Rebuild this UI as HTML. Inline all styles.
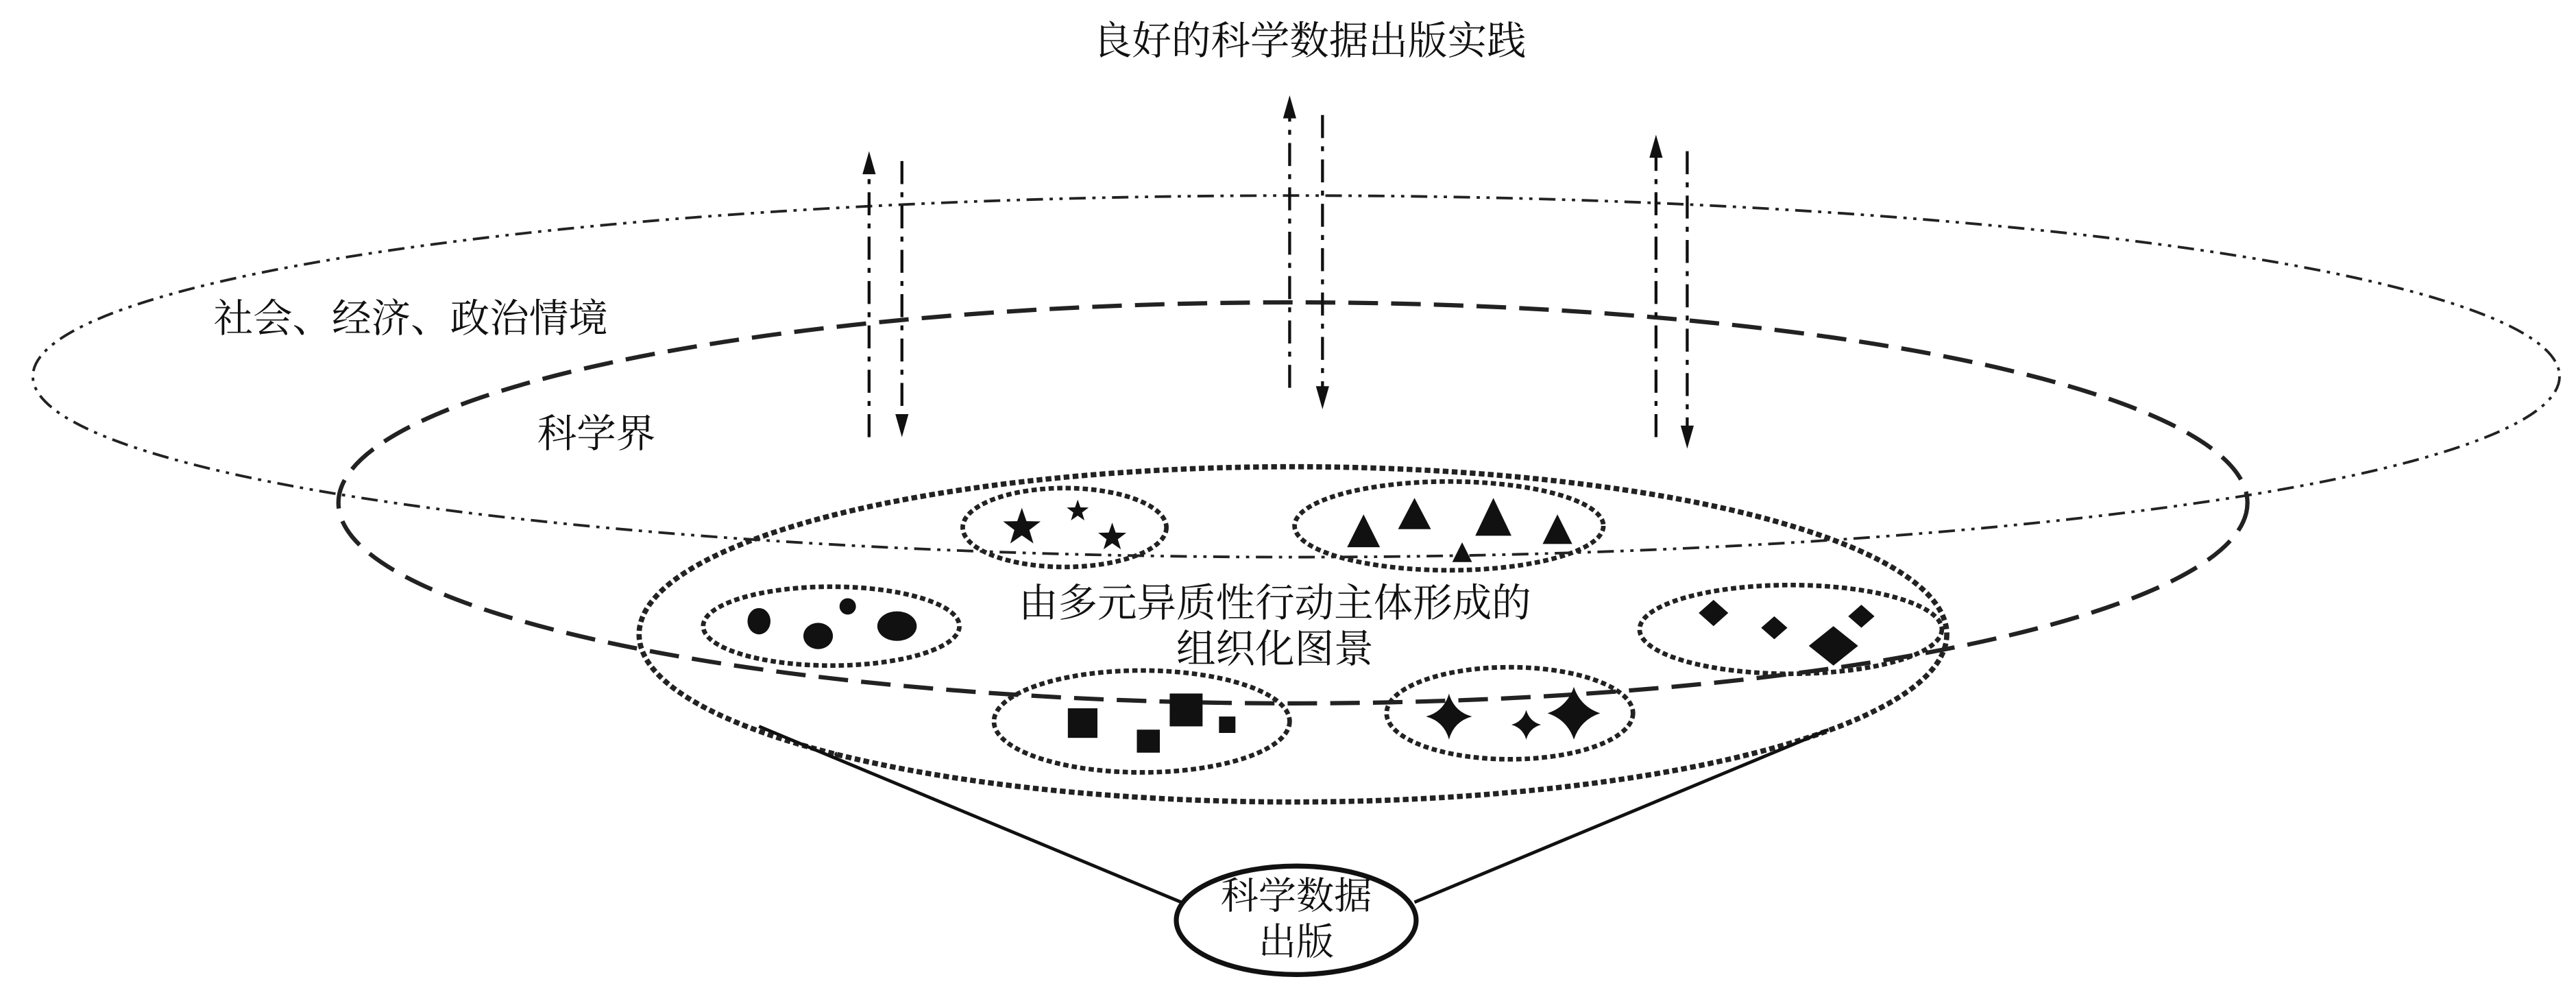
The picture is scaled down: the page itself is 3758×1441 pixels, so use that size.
<!DOCTYPE html>
<html><head><meta charset="utf-8"><style>
html,body{margin:0;padding:0;background:#fff;}
svg{display:block;}
text{font-family:"Liberation Serif","Noto Serif CJK SC","Noto Sans CJK SC",serif;fill:#111;}
</style></head><body>
<svg width="3758" height="1441" viewBox="0 0 1568 601.2" preserveAspectRatio="none" xmlns="http://www.w3.org/2000/svg">
<text x="797" y="33" font-size="24" text-anchor="middle">良好的科学数据出版实践</text>

<ellipse cx="789" cy="229" rx="769" ry="110" fill="none" stroke="#222" stroke-width="1.6" stroke-dasharray="10 4 2 4 2 4"/>
<ellipse cx="787" cy="306" rx="581" ry="122" fill="none" stroke="#222" stroke-width="2.6" stroke-dasharray="18 8"/>
<ellipse cx="787" cy="386" rx="398" ry="102" fill="none" stroke="#222" stroke-width="3.2" stroke-dasharray="3.5 2"/>

<text x="250" y="202" font-size="24" text-anchor="middle">社会、经济、政治情境</text>
<text x="363" y="272" font-size="24" text-anchor="middle">科学界</text>
<text x="776" y="375" font-size="24" text-anchor="middle">由多元异质性行动主体形成的</text>
<text x="776" y="403" font-size="24" text-anchor="middle">组织化图景</text>

<g stroke="#111" stroke-width="1.8" fill="none" stroke-dasharray="14 5 3 5">
<line x1="529" y1="266" x2="529" y2="104"/>
<line x1="549" y1="98" x2="549" y2="254"/>
<line x1="785" y1="236" x2="785" y2="70"/>
<line x1="805" y1="70" x2="805" y2="237"/>
<line x1="1008" y1="266" x2="1008" y2="94"/>
<line x1="1027" y1="92" x2="1027" y2="261"/>
</g>
<g fill="#111">
<polygon points="525,106 529,92 533,106"/>
<polygon points="545,252 549,266 553,252"/>
<polygon points="781,72 785,58 789,72"/>
<polygon points="801,235 805,249 809,235"/>
<polygon points="1004,96 1008,82 1012,96"/>
<polygon points="1023,259 1027,273 1031,259"/>
</g>

<g fill="none" stroke="#222" stroke-width="2.8" stroke-dasharray="3.2 2">
<ellipse cx="648" cy="321" rx="62" ry="24"/>
<ellipse cx="882" cy="320" rx="94" ry="27"/>
<ellipse cx="506" cy="381" rx="78" ry="24"/>
<ellipse cx="1090" cy="383" rx="92" ry="27"/>
<ellipse cx="695" cy="439" rx="90" ry="31"/>
<ellipse cx="919" cy="434" rx="75" ry="28"/>
</g>

<g fill="#111">
<polygon transform="translate(622,321) scale(12)" points="0,-1 0.235,-0.324 0.951,-0.309 0.38,0.124 0.588,0.809 0,0.4 -0.588,0.809 -0.38,0.124 -0.951,-0.309 -0.235,-0.324"/>
<polygon transform="translate(656,311) scale(7)" points="0,-1 0.235,-0.324 0.951,-0.309 0.38,0.124 0.588,0.809 0,0.4 -0.588,0.809 -0.38,0.124 -0.951,-0.309 -0.235,-0.324"/>
<polygon transform="translate(677,327) scale(9)" points="0,-1 0.235,-0.324 0.951,-0.309 0.38,0.124 0.588,0.809 0,0.4 -0.588,0.809 -0.38,0.124 -0.951,-0.309 -0.235,-0.324"/>
<polygon points="820,333 830,313 840,333"/>
<polygon points="851,322 861,303 871,322"/>
<polygon points="898,326 909,303 920,326"/>
<polygon points="939,331 948,313 957,331"/>
<polygon points="884,342 890,330 896,342"/>
<ellipse cx="462" cy="378" rx="7" ry="8"/>
<ellipse cx="498" cy="387" rx="9" ry="8"/>
<ellipse cx="516" cy="369" rx="5" ry="5"/>
<ellipse cx="546" cy="381" rx="12" ry="9"/>
<polygon points="1043,365 1052,373 1043,381 1034,373"/>
<polygon points="1080,375 1088,382 1080,389 1072,382"/>
<polygon points="1133,368 1141,375 1133,382 1125,375"/>
<polygon points="1116,381 1131,393 1116,405 1101,393"/>
<rect x="650" y="431" width="18" height="18"/>
<rect x="692" y="444" width="14" height="14"/>
<rect x="712" y="422" width="20" height="20"/>
<rect x="742" y="436" width="10" height="10"/>
<path d="M882,422 Q885,433 896,436 Q885,439 882,450 Q879,439 868,436 Q879,433 882,422Z"/>
<path d="M929,432 Q931,439 938,441 Q931,443 929,450 Q927,443 920,441 Q927,439 929,432Z"/>
<path d="M958,418 Q962,430 974,434 Q962,438 958,450 Q954,438 942,434 Q954,430 958,418Z"/>
</g>

<line x1="462" y1="442" x2="719" y2="549" stroke="#111" stroke-width="2"/>
<line x1="1113" y1="444" x2="861" y2="549" stroke="#111" stroke-width="2"/>
<ellipse cx="789" cy="560" rx="73" ry="33" fill="#fff" stroke="#111" stroke-width="3"/>
<text x="789" y="553" font-size="23" text-anchor="middle">科学数据</text>
<text x="789" y="581" font-size="23" text-anchor="middle">出版</text>
</svg>
</body></html>
